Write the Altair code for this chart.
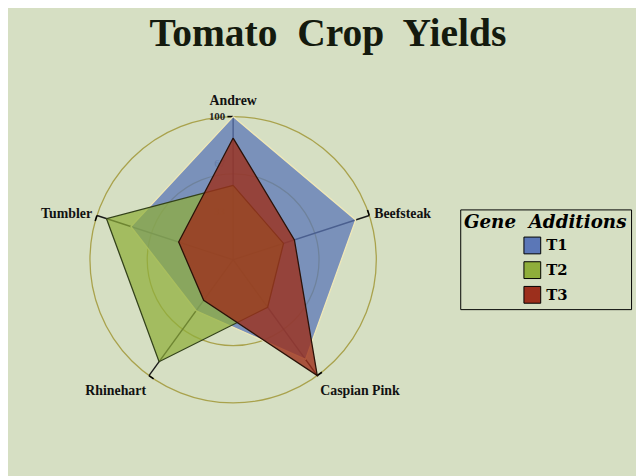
import altair as alt
import pandas as pd
import numpy as np

# ---------------- data ----------------
categories = ["Andrew", "Beefsteak", "Caspian Pink", "Rhinehart", "Tumbler"]
series_names = ["T1", "T2", "T3"]
t1_values = [100, 90, 86, 44, 75]
t2_values = [52, 37, 41, 88, 93]
t3_values = [85, 45, 100, 35, 40]
tick_values = [33, 67, 100]
tick_labels = ["33", "67", "100"]
chart_title = "Tomato\u00a0 Crop\u00a0 Yields"
legend_title = "Gene\u00a0 Additions"

# ---------------- styles ----------------
fill_colors = ["#5b77b7", "#8fae3a", "#9c2f1c"]
stroke_colors = ["#f0e8b8", "#33421a", "#2a1208"]
bg = "#d6dfc3"
W, H = 636, 468
PX = 1.45                     # pixels per value unit
CX, CY = 228, 252             # radar centre inside the view
RMAX = 100

n = len(categories)
angles = [2 * np.pi * i / n for i in range(n)]

rows = []
for s, vals in zip(series_names, [t1_values, t2_values, t3_values]):
    for i in range(n + 1):
        k = i % n
        a = angles[k]
        rows.append({"series": s, "category": categories[k], "order": i,
                     "x": vals[k] * np.sin(a), "y": vals[k] * np.cos(a)})
poly = pd.DataFrame(rows)

axes_df = pd.DataFrame({
    "category": categories,
    "x0": [0.0] * n, "y0": [0.0] * n,
    "x": [RMAX * np.sin(a) for a in angles],
    "y": [RMAX * np.cos(a) for a in angles],
})
L = 4.0
axes_df["xt"] = axes_df["x"] - L * np.cos(angles)
axes_df["yt"] = axes_df["y"] + L * np.sin(angles)

ticks_df = pd.DataFrame({"v": tick_values, "label": tick_labels, "x": [0.0] * len(tick_values)})
center_df = pd.DataFrame({"x": [0.0], "y": [0.0]})

xs = alt.Scale(domain=[-CX / PX, (W - CX) / PX], nice=False, zero=False)
ys = alt.Scale(domain=[-(H - CY) / PX, CY / PX], nice=False, zero=False)
X = lambda f: alt.X(f, scale=xs, axis=None)
Y = lambda f: alt.Y(f, scale=ys, axis=None)

# grid circles
circles = alt.layer(*[
    alt.Chart(center_df).mark_point(shape="circle", filled=False, size=(2 * r * PX) ** 2,
                                    stroke="#a9a24c", strokeWidth=1.3, opacity=1)
    .encode(x=X("x:Q"), y=Y("y:Q"))
    for r in [60, 100]
])

axis_lines = alt.Chart(axes_df).mark_rule(color="#1a1a1a", strokeWidth=1.4).encode(
    x=X("x0:Q"), y=Y("y0:Q"), x2="x:Q", y2="y:Q")
axis_ends = alt.Chart(axes_df).mark_rule(color="#000000", strokeWidth=1.6).encode(
    x=X("x:Q"), y=Y("y:Q"), x2="xt:Q", y2="yt:Q")

tick_text = alt.Chart(ticks_df).mark_text(
    align="right", baseline="middle", dx=-8, font="Liberation Serif", fontSize=11,
    fontWeight="bold", color="#222222").encode(
    x=X("x:Q"), y=Y("v:Q"), text="label:N",
    opacity=alt.condition(alt.datum.v == 100, alt.value(1.0), alt.value(0.35)))

fill_scale = alt.Scale(domain=series_names, range=fill_colors)
legend = alt.Legend(
    orient="none", legendX=458, legendY=201, title=legend_title,
    titleFont="DejaVu Serif", titleFontSize=18.5, titleFontWeight="bold", titleFontStyle="italic",
    titleColor="#000000", titlePadding=5, titleAnchor="middle",
    labelFont="DejaVu Serif", labelFontSize=15, labelFontWeight="bold", labelColor="#000000",
    symbolType="square", symbolSize=289, symbolStrokeColor="#000000", symbolStrokeWidth=1,
    symbolOpacity=1, symbolOffset=0, labelOffset=5, rowPadding=3, padding=4,
    strokeColor="#000000", fillColor=bg, cornerRadius=0)

polys = []
for s, sc, op in zip(series_names, stroke_colors, [0.75, 0.72, 0.8]):
    polys.append(
        alt.Chart(poly).transform_filter(alt.datum.series == s)
        .mark_line(fillOpacity=op, strokeWidth=1.3, stroke=sc, interpolate="linear")
        .encode(x=X("x:Q"), y=Y("y:Q"), order="order:Q",
                fill=alt.Fill("series:N", scale=fill_scale, legend=legend))
    )

lab_font = dict(font="Liberation Serif", fontSize=14, fontWeight="bold", color="#111111")
label_specs = {
    "Andrew": dict(align="center", baseline="bottom", dx=0, dy=-9),
    "Beefsteak": dict(align="left", baseline="middle", dx=5, dy=-2),
    "Caspian Pink": dict(align="left", baseline="middle", dx=3, dy=16),
    "Rhinehart": dict(align="right", baseline="middle", dx=-3, dy=16),
    "Tumbler": dict(align="right", baseline="middle", dx=-5, dy=-1),
}
labels = alt.layer(*[
    alt.Chart(axes_df).transform_filter(alt.datum.category == c)
    .mark_text(**spec, **lab_font)
    .encode(x=X("x:Q"), y=Y("y:Q"), text="category:N")
    for c, spec in label_specs.items()
])

title_df = pd.DataFrame({"t": [chart_title]})
title_main = alt.Chart(title_df).mark_text(
    font="Liberation Serif", fontSize=40, fontWeight="bold", color="#141a0e",
    align="center", baseline="alphabetic").encode(
    x=alt.value(324), y=alt.value(36), text="t:N")

chart = alt.layer(
    circles, axis_lines, axis_ends, tick_text, *polys, labels, title_main
).properties(
    width=W, height=H, background=bg, padding=0, autosize=alt.AutoSizeParams(type="none")
).configure_view(stroke=None)

chart.save("out.html", embed_options={"renderer": "svg", "actions": False})
